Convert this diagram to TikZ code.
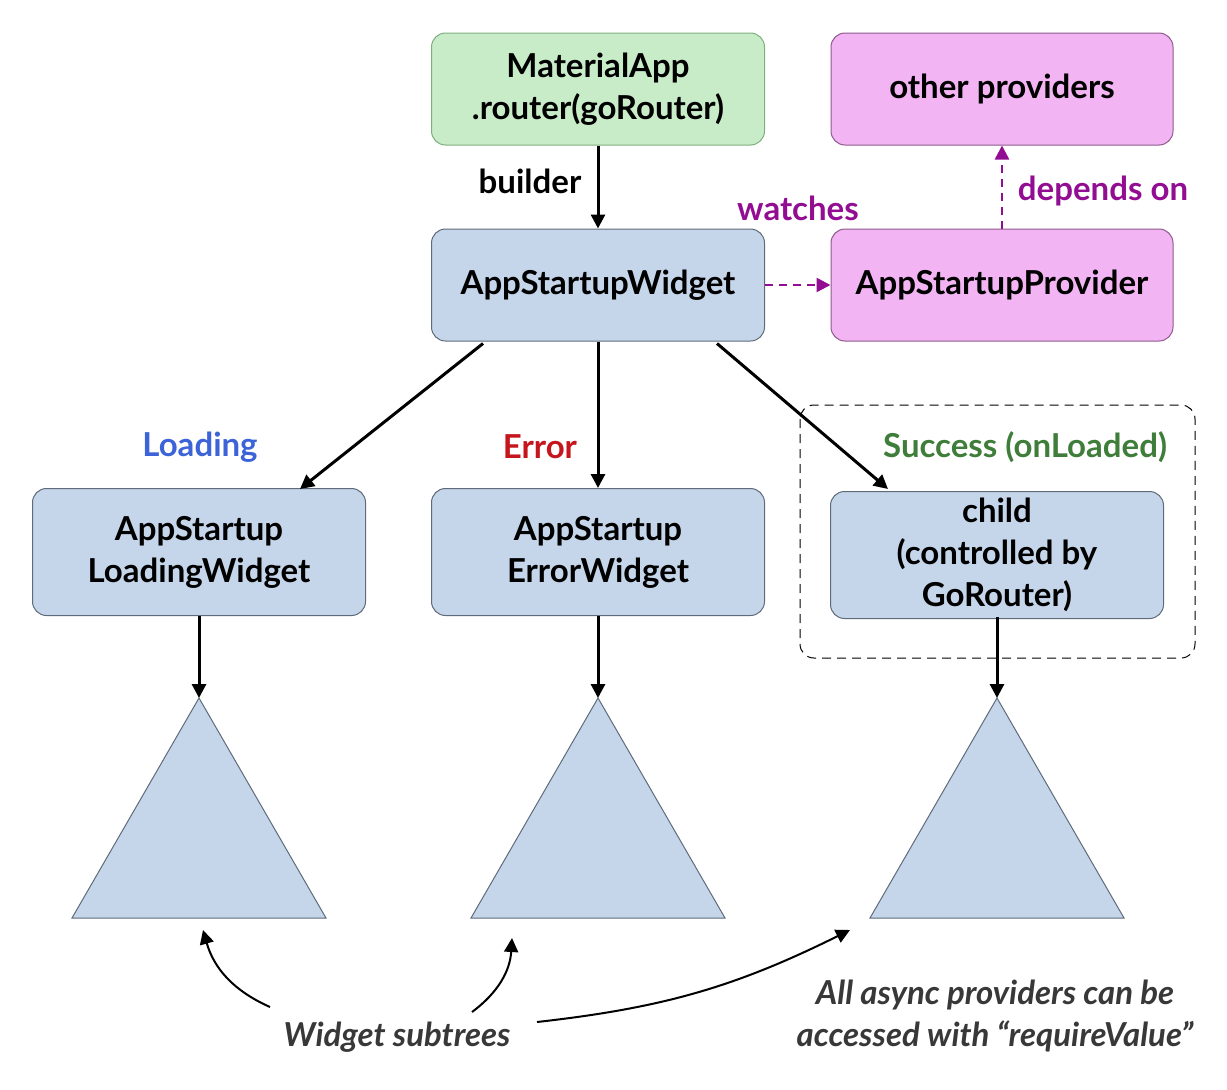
\documentclass[tikz,border=0pt]{standalone}
\usepackage{fontspec}
\setmainfont{Lato}[BoldFont={Lato Bold},ItalicFont={Lato Italic},BoldItalicFont={Lato Bold Italic}]
\usetikzlibrary{arrows.meta,positioning}
\definecolor{wfill}{HTML}{C5D5EA}
\definecolor{wdraw}{HTML}{5F6B7A}
\definecolor{gfill}{HTML}{C8EBC8}
\definecolor{gdraw}{HTML}{7FAF7F}
\definecolor{pfill}{HTML}{F2B4F2}
\definecolor{pdraw}{HTML}{8E5A8E}
\definecolor{purp}{HTML}{930D93}
\definecolor{loadcol}{HTML}{3D63D8}
\definecolor{errcol}{HTML}{C4161C}
\definecolor{succol}{HTML}{3F7D3A}
\tikzset{>={Triangle[length=14pt,width=14pt]}}
\tikzset{box/.style = {draw=wdraw, fill=wfill, rounded corners=14pt, line width=1pt,
minimum width=333pt, minimum height=112pt, align=center,
font=\fontsize{33}{42}\selectfont\bfseries},
lbl/.style = {font=\fontsize{33}{38}\selectfont\bfseries},
note/.style = {font=\fontsize{33}{42}\selectfont\bfseries\itshape, text=black!78, align=center},
arr/.style = {->, line width=3pt},
dep/.style = {->, line width=2.5pt, purp, dash pattern=on 8pt off 6pt},
tri/.style = {draw=wdraw, fill=wfill, line width=1pt}}
\begin{document}
\begin{tikzpicture}[x=1pt,y=-1pt]
\useasboundingbox (0,0) rectangle (1227,1090);
\node[box, fill=gfill, draw=gdraw] (app) at (598,89) {MaterialApp\\.router(goRouter)};
\node[box, fill=pfill, draw=pdraw, minimum width=342pt] (other) at (1002,89) {other providers};
\node[box] (startup) at (598,285) {AppStartupWidget};
\node[box, fill=pfill, draw=pdraw, minimum width=342pt] (provider) at (1002,285) {AppStartupProvider};
\node[box, minimum height=127pt] (loading) at (199,552) {AppStartup\\LoadingWidget};
\node[box, minimum height=127pt] (error) at (598,552) {AppStartup\\ErrorWidget};
\node[box, minimum height=127pt] (child) at (997,555) {child\\(controlled by\\GoRouter)};
\draw[dashed, line width=1pt, dash pattern=on 9pt off 6pt, rounded corners=14pt] (800,405) rectangle (1195,658);

% subtrees
\foreach \n/\x in {la/199, ea/598, ca/997} {
  \draw[tri] (\x,698) -- (\x+127,918) -- (\x-127,918) -- cycle;
  \coordinate (\n) at (\x,698);
}

% labels
\node[lbl] (builder) at (530,181) {builder};
\node[lbl, text=purp] (watches) at (798,208) {watches};
\node[lbl, text=purp] (depends) at (1103,191) {depends on};
\node[lbl, text=loadcol] (loadlbl) at (200,447) {Loading};
\node[lbl, text=errcol] (errlbl) at (540,447) {Error};
\node[lbl, text=succol] (suclbl) at (1025,447) {Success (onLoaded)};

\draw[arr] (app) -- (startup);
\draw[dep] (startup) -- (provider);
\draw[dep] (provider) -- (other);
\draw[arr] (startup.south west) ++(52,2) coordinate (s1) -- (300,489) coordinate (l1);
\draw[arr] (startup) -- (error);
\draw[arr] (startup.south east) ++(-48,2) coordinate (s2) -- (888,489) coordinate (c1);
\draw[arr] (loading) -- (la);
\draw[arr] (error) -- (ea);
\draw[arr] (child.south |- 0,617) -- (ca);

% notes
\node[note] (subtrees) at (397,1037) {Widget subtrees};
\node[note] (async) at (995,1016) {All async providers can be\\accessed with “requireValue”};
\coordinate (t1) at (203,930);
\coordinate (t2) at (512,938);
\coordinate (t3) at (850,930);
\draw[->, line width=2pt] (270,1007) to[bend left=25] (t1);
\draw[->, line width=2pt] (472,1012) to[bend right=25] (t2);
\draw[->, line width=2pt] (537,1022) to[bend right=10] (t3);
\end{tikzpicture}
\end{document}
